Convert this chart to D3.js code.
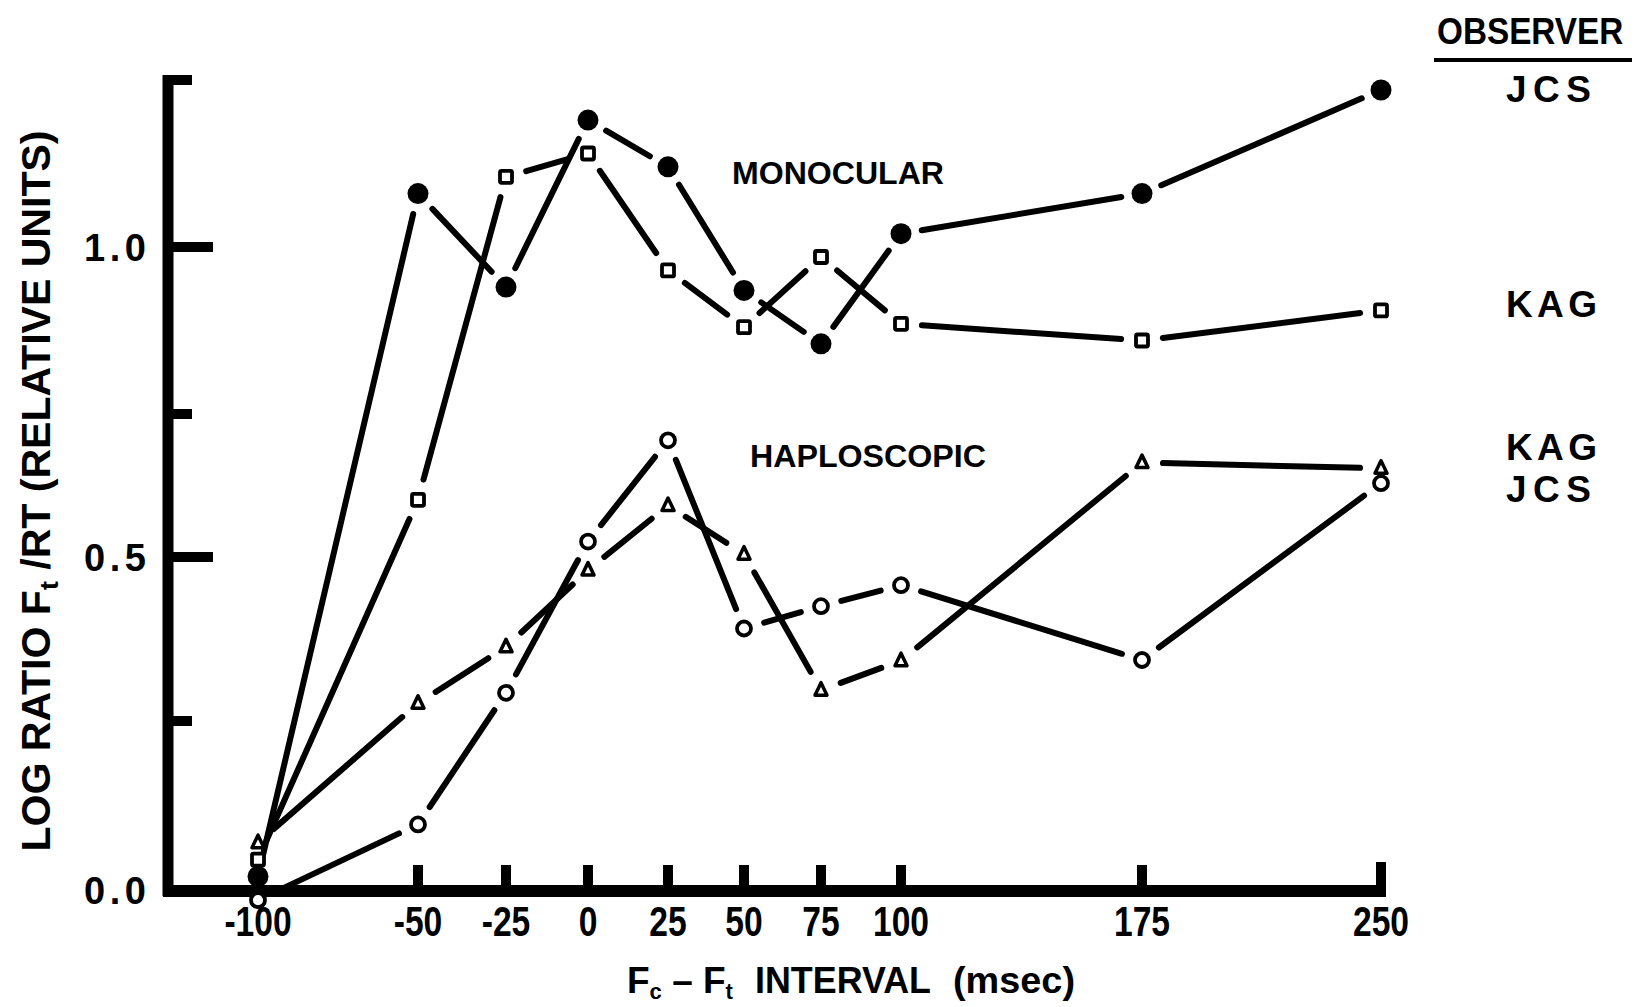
<!DOCTYPE html>
<html><head><meta charset="utf-8">
<script src="https://cdn.jsdelivr.net/npm/d3@7"></script>
<style>
html,body{margin:0;padding:0;background:#fff;}
svg{display:block;background:#fff;}
text{font-family:"Liberation Sans",Arial,sans-serif;font-weight:bold;fill:#000;}
</style></head><body>
<svg id="chart" width="1639" height="1007"></svg>
<script>
// ---- data ----
const intervals = [-100, -50, -25, 0, 25, 50, 75, 100, 175, 250];
const xTickValues = [-50, -25, 0, 25, 50, 75, 100, 175, 250];
const xTickLabels = ["-100", "-50", "-25", "0", "25", "50", "75", "100", "175", "250"];
const yTickValues = [0, 0.25, 0.5, 0.75, 1.0, 1.25];
const yTickLabels = ["0.0", "", "0.5", "", "1.0", ""];

const jcsMonocular   = [0.02, 1.08, 0.94, 1.19, 1.12, 0.935, 0.855, 1.02, 1.08, 1.235];
const kagMonocular   = [0.045, 0.60, 1.105, 1.14, 0.965, 0.88, 0.985, 0.885, 0.86, 0.905];
const kagHaploscopic = [0.07, 0.277, 0.363, 0.48, 0.59, 0.505, 0.297, 0.342, 0.665, 0.655];
const jcsHaploscopic = [-0.015, 0.097, 0.293, 0.527, 0.704, 0.391, 0.425, 0.457, 0.343, 0.629];

const seriesNames = ["JCS monocular", "KAG monocular", "KAG haploscopic", "JCS haploscopic"];
const seriesValues = [jcsMonocular, kagMonocular, kagHaploscopic, jcsHaploscopic];
const seriesMarkers = ["filledCircle", "square", "triangle", "openCircle"];

// ---- scales (calibrated to the hand-drawn axes) ----
const x = d3.scaleLinear().domain(intervals)
  .range([258, 418, 506, 588, 668, 744, 821, 901, 1142, 1381]);
const y = d3.scaleLinear().domain(yTickValues)
  .range([890, 721, 557, 414, 247, 80]);

const svg = d3.select("#chart");
const g = svg.append("g");

// ---- axes ----
const axisX = 168;
g.append("line").attr("x1", axisX).attr("x2", axisX)
  .attr("y1", y(1.25) - 5).attr("y2", y(0) + 6)
  .attr("stroke", "#000").attr("stroke-width", 11);
g.selectAll(".ytick").data(yTickValues.slice(1)).join("line")
  .attr("class", "ytick")
  .attr("x1", axisX).attr("x2", (d) => (d === 0.5 || d === 1.0) ? 213 : 192)
  .attr("y1", (d) => y(d)).attr("y2", (d) => y(d))
  .attr("stroke", "#000").attr("stroke-width", 10);
g.selectAll(".ylab").data(yTickValues.filter((d, i) => yTickLabels[i] !== "")).join("text")
  .attr("class", "ylab")
  .attr("x", 84).attr("y", (d) => y(d) + 14)
  .attr("font-size", 38).attr("textLength", 62).attr("lengthAdjust", "spacing")
  .text((d) => yTickLabels[yTickValues.indexOf(d)]);

const axisY = y(0) + 1;
g.append("line").attr("x1", axisX - 5).attr("x2", x(250) + 5)
  .attr("y1", axisY).attr("y2", axisY)
  .attr("stroke", "#000").attr("stroke-width", 12);
g.selectAll(".xtick").data(xTickValues).join("line")
  .attr("class", "xtick")
  .attr("x1", (d) => x(d)).attr("x2", (d) => x(d))
  .attr("y1", axisY).attr("y2", (d) => d === 250 ? axisY - 29 : axisY - 26)
  .attr("stroke", "#000").attr("stroke-width", 10);
g.selectAll(".xlab").data(intervals).join("text")
  .attr("class", "xlab")
  .attr("transform", (d) => `translate(${x(d)},936) scale(0.8,1)`)
  .attr("text-anchor", "middle").attr("font-size", 42)
  .text((d, i) => xTickLabels[i]);

// ---- series lines (with gaps around markers) ----
const gap = 21;
seriesValues.forEach((vals, si) => {
  const pts = intervals.map((d, i) => [x(d), y(vals[i])]);
  const segs = d3.pairs(pts).map(([p0, p1]) => {
    const dx = p1[0] - p0[0], dy = p1[1] - p0[1], L = Math.hypot(dx, dy);
    const ux = dx / L, uy = dy / L;
    return [p0[0] + ux * gap, p0[1] + uy * gap, p1[0] - ux * gap, p1[1] - uy * gap];
  });
  g.append("g").selectAll("line").data(segs).join("line")
    .attr("x1", (s) => s[0]).attr("y1", (s) => s[1])
    .attr("x2", (s) => s[2]).attr("y2", (s) => s[3])
    .attr("stroke", "#000").attr("stroke-width", 6).attr("stroke-linecap", "round");
});

// ---- markers ----
seriesValues.forEach((vals, si) => {
  const type = seriesMarkers[si];
  const mg = g.append("g");
  const data = intervals.map((d, i) => [x(d), y(vals[i])]);
  if (type === "filledCircle") {
    mg.selectAll("circle").data(data).join("circle")
      .attr("cx", (p) => p[0]).attr("cy", (p) => p[1]).attr("r", 10.5).attr("fill", "#000");
  } else if (type === "openCircle") {
    mg.selectAll("circle").data(data).join("circle")
      .attr("cx", (p) => p[0]).attr("cy", (p) => p[1]).attr("r", 7)
      .attr("fill", "#fff").attr("stroke", "#000").attr("stroke-width", 3.8);
  } else if (type === "square") {
    mg.selectAll("rect").data(data).join("rect")
      .attr("x", (p) => p[0] - 6).attr("y", (p) => p[1] - 6).attr("width", 12).attr("height", 12)
      .attr("rx", 1.5)
      .attr("fill", "#fff").attr("stroke", "#000").attr("stroke-width", 3.8);
  } else if (type === "triangle") {
    mg.selectAll("path").data(data).join("path")
      .attr("d", (p) => `M${p[0]},${p[1] - 7.5}L${p[0] + 6},${p[1] + 5}L${p[0] - 6},${p[1] + 5}Z`)
      .attr("fill", "#fff").attr("stroke", "#000").attr("stroke-width", 3.5)
      .attr("stroke-linejoin", "round");
  }
});

// ---- annotations ----
g.append("text").attr("x", 732).attr("y", 184).attr("font-size", 31)
  .attr("textLength", 212).attr("lengthAdjust", "spacingAndGlyphs").text("MONOCULAR");
g.append("text").attr("x", 750).attr("y", 467).attr("font-size", 31)
  .attr("textLength", 236).attr("lengthAdjust", "spacingAndGlyphs").text("HAPLOSCOPIC");

// observer legend
g.append("text").attr("transform", "translate(1437,44) scale(0.9,1)").attr("font-size", 37)
  .text("OBSERVER");
g.append("rect").attr("x", 1434).attr("y", 58).attr("width", 198).attr("height", 4).attr("fill", "#000");
const obsLabels = [["JCS", 102, 85], ["KAG", 317, 91], ["KAG", 460, 91], ["JCS", 502, 85]];
g.selectAll(".obs").data(obsLabels).join("text")
  .attr("class", "obs").attr("x", 1506).attr("y", (d) => d[1]).attr("font-size", 37)
  .attr("textLength", (d) => d[2]).attr("lengthAdjust", "spacing")
  .text((d) => d[0]);

// axis titles
const xt = g.append("text").attr("y", 993).attr("font-size", 37);
xt.append("tspan").attr("x", 627).text("F");
xt.append("tspan").attr("font-size", 22).attr("dy", 6).text("c");
xt.append("tspan").attr("dy", -6).text(" \u2013 F");
xt.append("tspan").attr("font-size", 22).attr("dy", 6).text("t");
xt.append("tspan").attr("dy", -6).attr("x", 755).attr("textLength", 176).attr("lengthAdjust", "spacingAndGlyphs").text("INTERVAL");
xt.append("tspan").attr("x", 953).attr("textLength", 122).attr("lengthAdjust", "spacingAndGlyphs").text("(msec)");

const yt = g.append("text").attr("transform", "translate(50,491) rotate(-90)")
  .attr("text-anchor", "middle").attr("font-size", 40)
  .attr("textLength", 721).attr("lengthAdjust", "spacingAndGlyphs");
yt.append("tspan").text("LOG RATIO F");
yt.append("tspan").attr("font-size", 26).attr("dy", 8).text("t");
yt.append("tspan").attr("dy", -8).text(" /RT (RELATIVE UNITS)");
</script>
</body></html>
